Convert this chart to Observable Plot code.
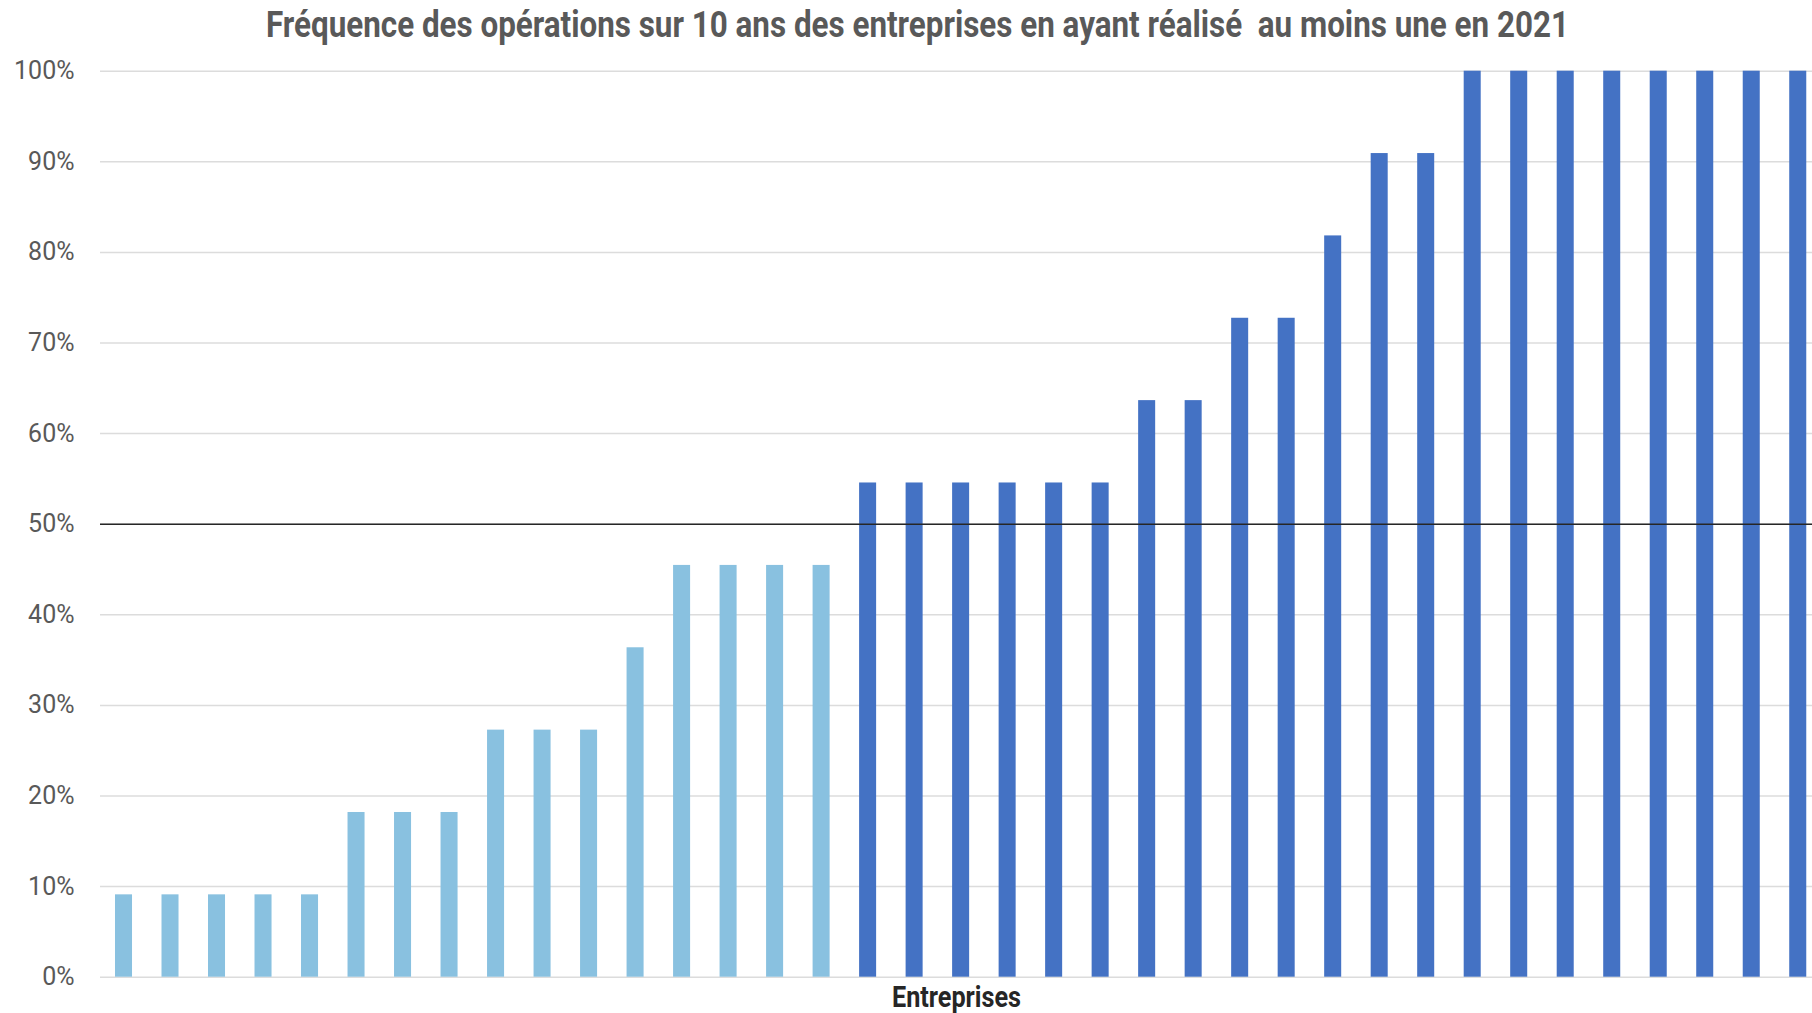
<!DOCTYPE html>
<html>
<head>
<meta charset="utf-8">
<script src="https://cdn.jsdelivr.net/npm/d3@7"></script>
<script src="https://cdn.jsdelivr.net/npm/@observablehq/plot@0.6"></script>
<style>
  html, body { margin: 0; padding: 0; background: #fff; overflow: hidden; }
  #wrap { position: relative; width: 1812px; height: 1013px; }
  #title {
    position: absolute; top: 0; left: 917px; height: 50px; line-height: 50px;
    white-space: pre; transform-origin: 0 50%;
    font-family: Roboto, "DejaVu Sans Condensed", sans-serif;
    font-weight: bold; font-size: 36px; color: #595959;
  }
  #chart { position: absolute; top: 50px; left: 0; }
</style>
</head>
<body>
<div id="wrap">
  <div id="title">Fréquence des opérations sur 10 ans des entreprises en ayant réalisé  au moins une en 2021</div>
  <div id="chart"></div>
</div>
<script>
// Data (share of the 11 years with at least one operation)
const entreprises = d3.range(1, 38).map(String);
const frequences = [
  0.0909, 0.0909, 0.0909, 0.0909, 0.0909,
  0.1818, 0.1818, 0.1818,
  0.2727, 0.2727, 0.2727,
  0.3636,
  0.4545, 0.4545, 0.4545, 0.4545,
  0.5455, 0.5455, 0.5455, 0.5455, 0.5455, 0.5455,
  0.6364, 0.6364,
  0.7273, 0.7273,
  0.8182,
  0.9091, 0.9091,
  1, 1, 1, 1, 1, 1, 1, 1
];
const seuil = [0.5];
const yTicks = [0, 0.1, 0.2, 0.3, 0.4, 0.5, 0.6, 0.7, 0.8, 0.9, 1];
const groupes = ["moins de la moitié", "plus de la moitié"];
const xLabel = "Entreprises";

const data = entreprises.map((id, i) => ({
  id, value: frequences[i], groupe: frequences[i] < seuil[0] ? groupes[0] : groupes[1]
}));

const chart = Plot.plot({
  width: 1812,
  height: 963,
  marginLeft: 100,
  marginRight: 0,
  marginTop: 20.7,
  marginBottom: 36.3,
  style: { fontFamily: "Roboto, 'Liberation Sans', sans-serif", fontSize: "25px", color: "#595959", background: "#fff", overflow: "visible" },
  x: { type: "band", domain: entreprises, range: [100.25, 1821], paddingInner: 0.634, paddingOuter: 0.317, round: false, axis: null },
  y: { domain: [0, 1], axis: null },
  color: { domain: groupes, range: ["#89C1E0", "#4472C4"] },
  marks: [
    Plot.ruleY(yTicks, { stroke: "#dcdcdc", strokeWidth: 1.5 }),
    Plot.barY(data, { x: "id", y: "value", fill: "groupe" }),
    Plot.ruleY(seuil, { stroke: "#262626", strokeWidth: 1.5 }),
    Plot.axisY(yTicks, { tickSize: 0, tickPadding: 26, tickFormat: d3.format(".0%"), fill: "#595959", fontSize: 25, label: null }),
    Plot.text([xLabel], { frameAnchor: "bottom", lineAnchor: "middle", dy: 21, text: d => d, fontSize: 29, fontWeight: "bold", fill: "#262626",
      fontFamily: "Roboto, sans-serif" })
  ]
});
document.getElementById("chart").appendChild(chart);

// condense the x label like the reference's narrow font
d3.select(chart).selectAll("text").filter(function () { return this.textContent === xLabel; })
  .attr("textLength", 129).attr("lengthAdjust", "spacingAndGlyphs");

// condense the title to the reference width, centred at x = 917
const t = document.getElementById("title");
const w = t.getBoundingClientRect().width;
const target = 1303;
const s = target / w;
t.style.left = (917 - target / 2) + "px";
t.style.transform = `scaleX(${s})`;
</script>
</body>
</html>
